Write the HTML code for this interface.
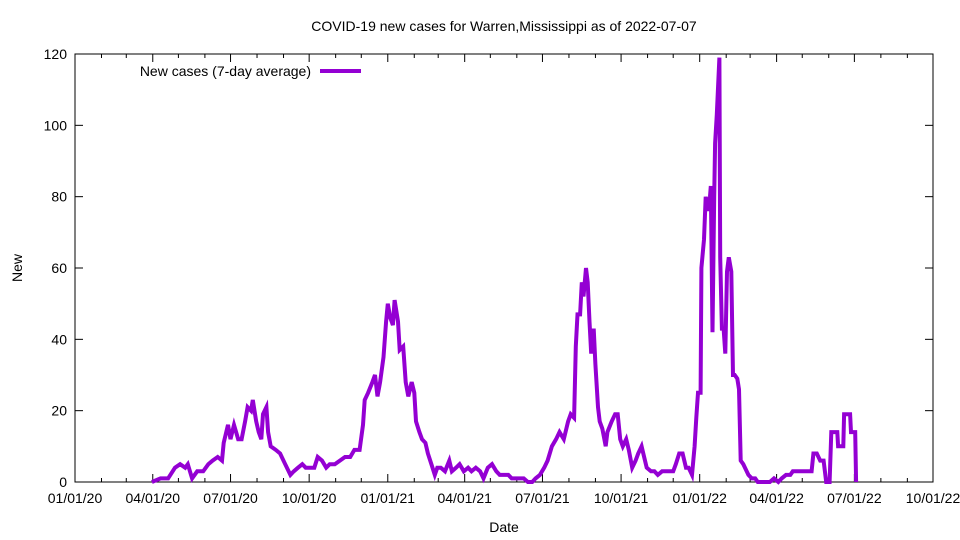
<!DOCTYPE html>
<html><head><meta charset="utf-8"><style>
html,body{margin:0;padding:0;background:#fff;}
svg{display:block;font-family:"Liberation Sans",sans-serif;}
</style></head><body>
<svg id="chart" width="960" height="540" viewBox="0 0 960 540" xmlns="http://www.w3.org/2000/svg">
<rect x="0" y="0" width="960" height="540" fill="#fff"/>
<text x="504" y="31" font-size="14" text-anchor="middle">COVID-19 new cases for Warren,Mississippi as of 2022-07-07</text>
<text x="22" y="268" font-size="14" text-anchor="middle" transform="rotate(-90 22 268)">New</text>
<text x="504" y="532" font-size="14" text-anchor="middle">Date</text>
<g id="grid"></g>
<rect x="75" y="54" width="858" height="428" fill="none" stroke="#000" stroke-width="1"/>
<g id="series"></g>
<g>
<text x="311" y="76" font-size="14" text-anchor="end">New cases (7-day average)</text>
<line x1="320" y1="71" x2="361" y2="71" stroke="#9400d3" stroke-width="4"/>
</g>
</svg>
<script>
// days since 2020-01-01
const days = [90,100,109,117,123,129,132,137,143,150,156,161,167,172,174,179,182,186,191,195,199,202,206,208,212,215,218,220,224,226,229,235,240,246,252,256,261,266,270,275,280,284,289,294,298,304,310,316,322,327,333,337,339,343,348,351,354,357,361,364,366,369,372,374,378,380,384,387,390,394,397,399,403,406,410,413,417,421,424,428,433,438,441,446,450,455,460,464,469,474,478,483,488,493,497,502,507,511,516,521,525,530,535,539,544,549,553,558,563,567,572,577,580,584,586,588,591,593,595,598,600,602,604,607,609,612,614,617,621,623,628,632,635,638,641,645,648,652,656,659,663,665,669,674,678,682,687,692,696,700,703,707,711,715,718,722,725,727,729,732,733,736,738,740,743,744,746,748,749,751,754,755,757,759,761,763,765,768,770,772,775,777,779,782,784,788,792,796,799,804,809,813,818,823,827,832,837,840,844,847,862,864,868,872,876,879,883,885,892,893,899,900,907,908,913,914];
const cases = [0,1,1,4,5,4,5,1,3,3,5,6,7,6,11,16,12,16,12,12,17,21,20,23,17,14,12,19,21,14,10,9,8,5,2,3,4,5,4,4,4,7,6,4,5,5,6,7,7,9,9,16,23,25,28,30,24,28,35,45,50,46,44,51,45,37,38,28,24,28,25,17,14,12,11,8,5,2,4,4,3,6,3,4,5,3,4,3,4,3,1,4,5,3,2,2,2,1,1,1,1,0,0,1,2,4,6,10,12,14,12,17,19,18,38,47,47,56,52,60,56,45,36,43,33,21,17,15,10,14,17,19,19,12,10,12,9,4,6,8,10,8,4,3,3,2,3,3,3,3,5,8,8,4,4,2,10,18,25,25,60,68,80,76,80,83,42,80,95,103,119,63,43,43,36,59,63,59,30,30,29,26,6,5,4,2,1,1,0,0,0,0,1,0,1,2,2,3,3,3,3,8,8,6,6,0,0,14,14,10,10,19,19,14,14,0];
const yTicks = [0,20,40,60,80,100,120];
const xTickLabels = ["01/01/20","04/01/20","07/01/20","10/01/20","01/01/21","04/01/21","07/01/21","10/01/21","01/01/22","04/01/22","07/01/22","10/01/22"];
const xTickDays = [0,91,182,274,366,456,547,639,731,821,912,1004];

const NS="http://www.w3.org/2000/svg";
const X0=75,X1=933,Y0=482,Y1=54,DMAX=1004,VMAX=120;
const xs=d=>X0+(X1-X0)*d/DMAX;
const ys=v=>Y0-(Y0-Y1)*v/VMAX;
const grid=document.getElementById('grid');
function mk(tag,attrs,parent){const e=document.createElementNS(NS,tag);for(const k in attrs)e.setAttribute(k,attrs[k]);parent.appendChild(e);return e;}

yTicks.forEach(v=>{
  const y=ys(v);
  const t1=mk('line',{x1:X0,y1:y,x2:X0+8,y2:y,stroke:'#000'},grid);
  
  
  const t2=mk('line',{x1:X1,y1:y,x2:X1-8,y2:y,stroke:'#000'},grid);
  
  
  const lb=mk('text',{x:X0-8,y:y+5,'font-size':14,'text-anchor':'end'},grid);
  lb.textContent=v;
  
  
});
// monthly minor ticks
for(let y=2020;y<=2022;y++){for(let m=0;m<12;m++){
  const d=(Date.UTC(y,m,1)-Date.UTC(2020,0,1))/86400000;
  if(d>DMAX)continue;
  const x=xs(d);const len=(m%3===0)?8:4;
  const a=mk('line',{x1:x,y1:Y0,x2:x,y2:Y0-len,stroke:'#000'},grid);
  
  
  const b=mk('line',{x1:x,y1:Y1,x2:x,y2:Y1+len,stroke:'#000'},grid);
  
  
}}
xTickLabels.forEach((s,i)=>{
  const lb=mk('text',{x:xs(xTickDays[i]),y:Y0+21,'font-size':14,'text-anchor':'middle'},grid);
  lb.textContent=s;
  
  
});
const pts=days.map((d,i)=>xs(d).toFixed(1)+','+ys(cases[i]).toFixed(1)).join(' ');
const pl=mk('polyline',{points:pts,fill:'none',stroke:'#9400d3','stroke-width':4,'stroke-linejoin':'miter'},document.getElementById('series'));


</script>
</body></html>
